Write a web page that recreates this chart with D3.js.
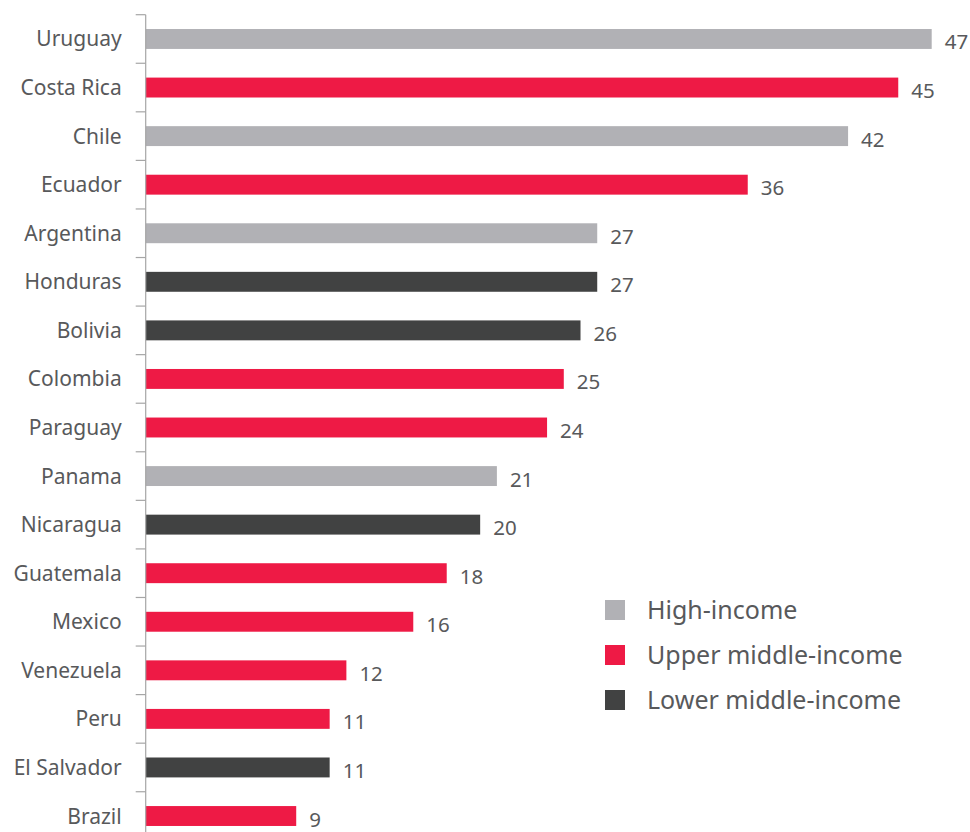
<!DOCTYPE html>
<html>
<head>
<meta charset="utf-8">
<script src="https://cdn.jsdelivr.net/npm/d3@7"></script>
<style>
  html, body { margin: 0; padding: 0; background: #fff; }
  svg { display: block; }
  text { font-family: "Noto Sans", sans-serif; fill: #58595b; }
</style>
</head>
<body>
<svg id="chart" width="970" height="832"></svg>
<script>
// Countries, top to bottom
const countries = ["Uruguay", "Costa Rica", "Chile", "Ecuador", "Argentina", "Honduras",
  "Bolivia", "Colombia", "Paraguay", "Panama", "Nicaragua", "Guatemala", "Mexico",
  "Venezuela", "Peru", "El Salvador", "Brazil"];
const values = [47, 45, 42, 36, 27, 27, 26, 25, 24, 21, 20, 18, 16, 12, 11, 11, 9];
const incomeGroup = ["High", "Upper", "High", "Upper", "High", "Lower", "Lower", "Upper",
  "Upper", "High", "Lower", "Upper", "Upper", "Upper", "Upper", "Lower", "Upper"];

const groupKeys = ["High", "Upper", "Lower"];
const groupLabels = ["High-income", "Upper middle-income", "Lower middle-income"];
const groupColors = ["#b1b1b5", "#ee1a45", "#414242"];

const rows = countries.map((c, i) => ({ country: c, value: values[i], group: incomeGroup[i] }));

const svg = d3.select("#chart");
const x0 = 145.7;

const x = d3.scaleLinear().domain([0, 47]).range([x0, 931.7]);
const y = d3.scaleBand().domain(countries).range([14.7, 840.3])
  .paddingInner(0.59).paddingOuter(0.295);
const color = d3.scaleOrdinal().domain(groupKeys).range(groupColors);

// Bars
svg.append("g").selectAll("rect").data(rows).join("rect")
  .attr("x", x(0))
  .attr("y", d => y(d.country))
  .attr("width", d => x(d.value) - x(0))
  .attr("height", y.bandwidth())
  .attr("fill", d => color(d.group));

// Value labels
svg.append("g").selectAll("text").data(rows).join("text")
  .attr("x", d => x(d.value) + 13)
  .attr("y", d => y(d.country) + y.bandwidth() / 2 + 10.5)
  .attr("font-size", 20.5)
  .text(d => d.value);

// Category axis: vertical line with ticks between rows
const step = y.step();
const yTop = y.range()[0];
const axis = svg.append("g");
axis.append("line")
  .attr("x1", x0).attr("x2", x0)
  .attr("y1", yTop).attr("y2", y.range()[1])
  .attr("stroke", "#a6a6a6").attr("stroke-width", 1.2);
axis.selectAll("line.tick").data(d3.range(countries.length + 1)).join("line")
  .attr("class", "tick")
  .attr("x1", x0 - 10).attr("x2", x0)
  .attr("y1", i => yTop + i * step).attr("y2", i => yTop + i * step)
  .attr("stroke", "#a6a6a6").attr("stroke-width", 1.2);
axis.selectAll("text").data(countries).join("text")
  .attr("x", x0 - 24)
  .attr("y", d => y(d) + y.bandwidth() / 2 + 7.5)
  .attr("text-anchor", "end")
  .attr("font-size", 21)
  .text(d => d);

// Legend
const legend = svg.append("g").attr("transform", "translate(605,600)");
const item = legend.selectAll("g").data(groupKeys).join("g")
  .attr("transform", (d, i) => `translate(0,${i * 45})`);
item.append("rect")
  .attr("width", 20).attr("height", 20)
  .attr("fill", d => color(d));
item.append("text")
  .attr("x", 42).attr("y", 19)
  .attr("font-size", 25)
  .text((d, i) => groupLabels[i]);
</script>
</body>
</html>
